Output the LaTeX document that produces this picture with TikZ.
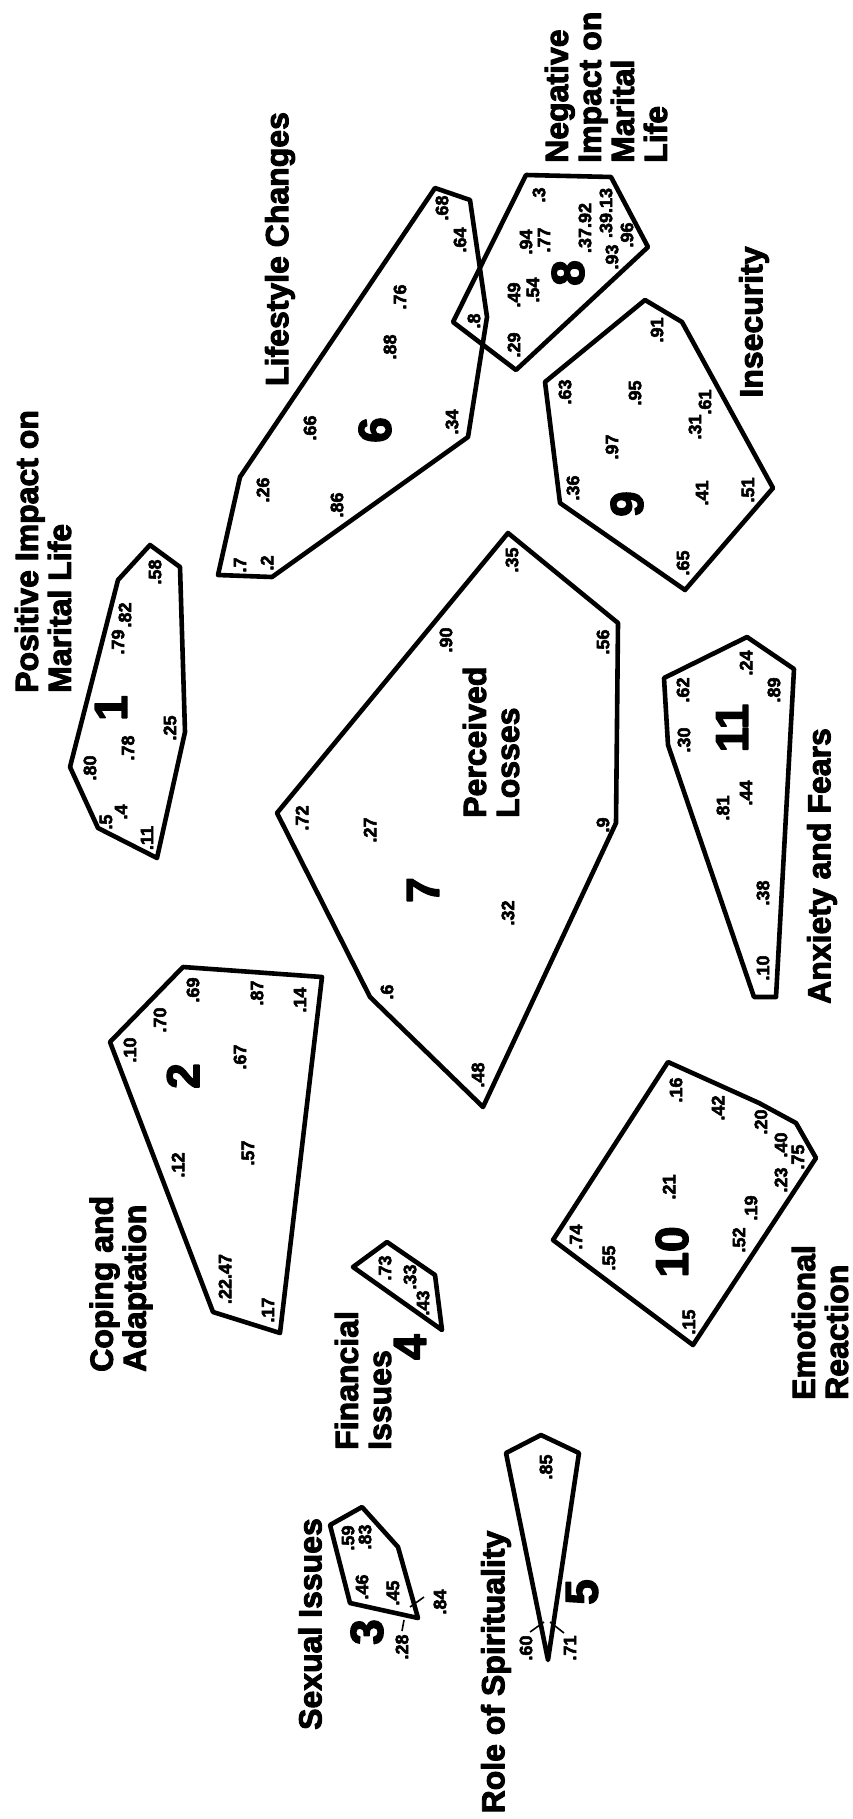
\documentclass[tikz,border=0pt]{standalone}
\usepackage{fontspec}
\setmainfont{Liberation Sans}
\newfontfamily\heavy{Liberation Sans Bold}[FakeBold=3]
\begin{document}
\begin{tikzpicture}[x=1pt,y=-1pt,line join=round,hull/.style={draw=black,line width=4.6pt},lbl/.style={rotate=90,inner sep=0,align=left,font=\fontsize{32}{33}\selectfont\heavy},num/.style={rotate=90,inner sep=0,font=\fontsize{46}{46}\selectfont\heavy},pt/.style={rotate=90,inner sep=0,font=\fontsize{18}{18}\selectfont\heavy},lead/.style={line width=1.6pt}]
 \useasboundingbox (0,0) rectangle (852,1819);
 % cluster outlines
 \draw[hull] (150,545)--(180,567)--(185,732)--(157,858)--(98,828)--(70,767)--(118,580)--cycle;
 \draw[hull] (183,967)--(322,977)--(280,1333)--(213,1312)--(110,1042)--cycle;
 \draw[hull] (362,1507)--(398,1547)--(418,1618)--(350,1603)--(330,1525)--cycle;
 \draw[hull] (387,1242)--(435,1275)--(442,1330)--(353,1267)--cycle;
 \draw[hull] (541,1435)--(579,1453)--(548,1660)--(506,1453)--cycle;
 \draw[hull] (435,188)--(470,200)--(487,317)--(468,437)--(272,577)--(218,575)--(240,477)--cycle;
 \draw[hull] (508,533)--(618,623)--(616,823)--(483,1107)--(370,997)--(277,813)--cycle;
 \draw[hull] (526,175)--(611,177)--(648,247)--(516,370)--(453,322)--cycle;
 \draw[hull] (645,300)--(682,322)--(773,488)--(685,590)--(560,503)--(545,382)--cycle;
 \draw[hull] (668,1062)--(759,1103)--(796,1123)--(816,1158)--(693,1345)--(553,1240)--cycle;
 \draw[hull] (747,637)--(794,669)--(776,997)--(754,997)--(668,745)--(664,678)--cycle;
 % cluster names
 \node[lbl,anchor=west] (positive) at (43,693) {Positive Impact on\\Marital Life};
 \node[lbl,anchor=west] (coping) at (121,1372) {Coping and\\Adaptation};
 \node[lbl] (sexual) at (310,1624) {Sexual Issues};
 \node[lbl,anchor=west] (financial) at (363,1450) {Financial\\Issues};
 \node[lbl] (spirit) at (496,1672) {Role of Spirituality};
 \node[lbl] (lifestyle) at (280,249) {Lifestyle Changes};
 \node[lbl,anchor=west] (losses) at (491,818) {Perceived\\Losses};
 \node[lbl,anchor=west] (negative) at (606,163) {Negative\\Impact on\\Marital\\Life};
 \node[lbl] (insecurity) at (754,322) {Insecurity};
 \node[lbl,anchor=west] (emotional) at (820,1400) {Emotional\\Reaction};
 \node[lbl] (anxiety) at (822,866) {Anxiety and Fears};
 % cluster numbers
 \node[num] (n1) at (111,708) {1};
 \node[num] (n2) at (183,1076) {2};
 \node[num] (n3) at (367,1632) {3};
 \node[num] (n4) at (410,1347) {4};
 \node[num] (n5) at (582,1592) {5};
 \node[num] (n6) at (375,430) {6};
 \node[num] (n7) at (423,890) {7};
 \node[num] (n8) at (568,273) {8};
 \node[num] (n9) at (627,504) {9};
 \node[num] (n10) at (672,1252) {10};
 \node[num] (n11) at (732,728) {11};
 % statements, cluster 1
 \node[pt] (a58) at (155,572) {.58};
 \node[pt] (a82) at (125,615) {.82};
 \node[pt] (a79) at (118,642) {.79};
 \node[pt] (a25) at (170,728) {.25};
 \node[pt] (a78) at (128,748) {.78};
 \node[pt] (a80) at (90,768) {.80};
 \node[pt] (a4) at (121,812) {.4};
 \node[pt] (a5) at (106,822) {.5};
 \node[pt] (a11) at (147,838) {.11};
 % cluster 2
 \node[pt] (b69) at (193,990) {.69};
 \node[pt] (b87) at (257,993) {.87};
 \node[pt] (b14) at (300,1000) {.14};
 \node[pt] (b70) at (160,1020) {.70};
 \node[pt] (b10) at (130,1050) {.10};
 \node[pt] (b67) at (240,1057) {.67};
 \node[pt] (b57) at (248,1153) {.57};
 \node[pt] (b12) at (178,1165) {.12};
 \node[pt] (b2247) at (225,1279) {.22.47};
 \node[pt] (b17) at (268,1310) {.17};
 % cluster 3
 \node[pt] (c59) at (348,1538) {.59};
 \node[pt] (c83) at (365,1537) {.83};
 \node[pt] (c46) at (362,1587) {.46};
 \node[pt] (c45) at (393,1593) {.45};
 \node[pt] (c84) at (440,1602) {.84};
 \node[pt] (c28) at (402,1647) {.28};
 \coordinate (k84a) at (410,1607); \coordinate (k84b) at (424,1597);
 \coordinate (k28a) at (404,1620); \coordinate (k28b) at (402,1631);
 \draw[lead] (k84a)--(k84b); \draw[lead] (k28a)--(k28b);
 % cluster 4
 \node[pt] (d73) at (385,1268) {.73};
 \node[pt] (d33) at (410,1277) {.33};
 \node[pt] (d43) at (423,1303) {.43};
 % cluster 5
 \node[pt] (e85) at (546,1467) {.85};
 \node[pt] (e60) at (526,1648) {.60};
 \node[pt] (e71) at (570,1648) {.71};
 \coordinate (k60a) at (544,1622); \coordinate (k60b) at (530,1632);
 \coordinate (k71a) at (550,1622); \coordinate (k71b) at (564,1633);
 \draw[lead] (k60a)--(k60b); \draw[lead] (k71a)--(k71b);
 % cluster 6
 \node[pt] (f68) at (442,208) {.68};
 \node[pt] (f64) at (460,240) {.64};
 \node[pt] (f76) at (400,297) {.76};
 \node[pt] (f8) at (474,321) {.8};
 \node[pt] (f88) at (390,347) {.88};
 \node[pt] (f34) at (452,422) {.34};
 \node[pt] (f66) at (310,428) {.66};
 \node[pt] (f26) at (263,490) {.26};
 \node[pt] (f86) at (337,505) {.86};
 \node[pt] (f2) at (267,563) {.2};
 \node[pt] (f7) at (240,565) {.7};
 % cluster 7
 \node[pt] (g35) at (512,560) {.35};
 \node[pt] (g90) at (446,640) {.90};
 \node[pt] (g56) at (603,642) {.56};
 \node[pt] (g72) at (302,818) {.72};
 \node[pt] (g9) at (603,825) {.9};
 \node[pt] (g27) at (370,830) {.27};
 \node[pt] (g32) at (508,913) {.32};
 \node[pt] (g6) at (387,992) {.6};
 \node[pt] (g48) at (478,1075) {.48};
 % cluster 8
 \node[pt] (h3) at (539,195) {.3};
 \node[pt] (h3992) at (585,228) {.37.92};
 \node[pt] (h3913) at (606,213) {.39.13};
 \node[pt] (h96) at (627,235) {.96};
 \node[pt] (h94) at (526,242) {.94};
 \node[pt] (h77) at (544,240) {.77};
 \node[pt] (h93) at (612,257) {.93};
 \node[pt] (h49) at (514,295) {.49};
 \node[pt] (h54) at (533,290) {.54};
 \node[pt] (h29) at (514,345) {.29};
 % cluster 9
 \node[pt] (i91) at (657,330) {.91};
 \node[pt] (i63) at (565,392) {.63};
 \node[pt] (i95) at (635,393) {.95};
 \node[pt] (i61) at (705,402) {.61};
 \node[pt] (i31) at (695,427) {.31};
 \node[pt] (i97) at (612,447) {.97};
 \node[pt] (i36) at (573,488) {.36};
 \node[pt] (i41) at (702,493) {.41};
 \node[pt] (i51) at (748,490) {.51};
 \node[pt] (i65) at (683,563) {.65};
 % cluster 10
 \node[pt] (j16) at (676,1090) {.16};
 \node[pt] (j42) at (718,1108) {.42};
 \node[pt] (j20) at (761,1122) {.20};
 \node[pt] (j40) at (781,1145) {.40};
 \node[pt] (j75) at (798,1157) {.75};
 \node[pt] (j23) at (781,1180) {.23};
 \node[pt] (j21) at (669,1187) {.21};
 \node[pt] (j19) at (751,1208) {.19};
 \node[pt] (j52) at (739,1240) {.52};
 \node[pt] (j74) at (576,1237) {.74};
 \node[pt] (j55) at (609,1258) {.55};
 \node[pt] (j15) at (689,1322) {.15};
 % cluster 11
 \node[pt] (k24) at (746,663) {.24};
 \node[pt] (k62) at (683,690) {.62};
 \node[pt] (k89) at (774,690) {.89};
 \node[pt] (k30) at (684,740) {.30};
 \node[pt] (k44) at (746,793) {.44};
 \node[pt] (k81) at (723,808) {.81};
 \node[pt] (k38) at (763,893) {.38};
 \node[pt] (k10) at (763,968) {.10};
\end{tikzpicture}
\end{document}
